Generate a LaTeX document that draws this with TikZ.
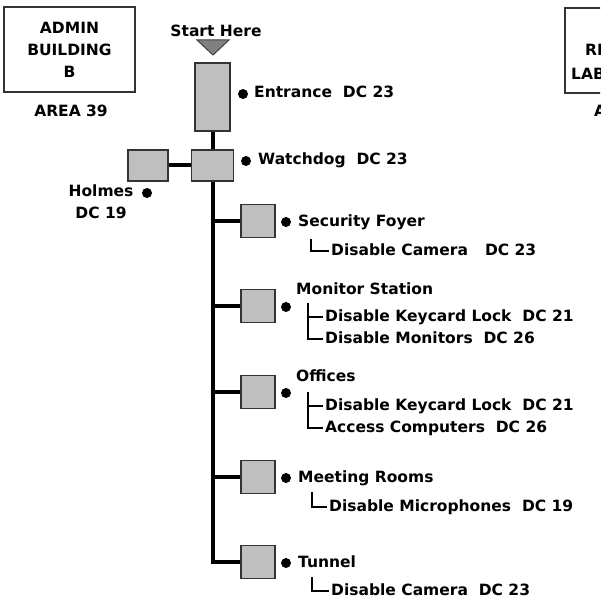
\documentclass[tikz,border=0pt]{standalone}
\usepackage{fontspec}
\setmainfont{DejaVu Sans}
\usepackage{tikz}
\usetikzlibrary{positioning}
\newcommand{\dcval}[1]{\hspace{0.7em}DC~#1}

\begin{document}
\begin{tikzpicture}[x=1pt, y=-1pt,
    every node/.style={font=\bfseries\fontsize{15.5}{22}\selectfont},
    room/.style={draw=black!80, line width=1.6pt, fill=black!25,
      minimum width=34pt, minimum height=33pt, inner sep=0pt},
    bldg/.style={draw=black!80, line width=1.6pt, minimum width=131pt,
      minimum height=85pt, align=center},
    dotmark/.style={circle, fill=black, minimum size=10pt, inner sep=0pt},
    lbl/.style={anchor=west, inner sep=0pt, text height=11pt, text depth=3pt},
    trunk/.style={line width=4pt},
    subline/.style={line width=2pt, shorten >=2pt}]
  \useasboundingbox (0,0) rectangle (600,612);
  \clip (0,0) rectangle (600,612);
  % Buildings
  \node[bldg] (admin) at (69.5,49.5) {ADMIN\\BUILDING\\B};
  \node (area) at (71,111) {AREA 39};
  \draw[draw=black!80, line width=1.6pt] (565,8) rectangle (700,93);
  \node[lbl] (labre) at (585,52) {RE};
  \node[lbl] (lablab) at (571,76) {LAB};
  \node[lbl] (labarea) at (594,113) {A};
  % Start marker
  \node (start) at (216,31) {Start Here};
  \filldraw[fill=black!50, draw=black!75, line width=1pt]
    (197,40) -- (229,40) -- (213,55) -- cycle;
  % Rooms
  \node[room, minimum width=35pt, minimum height=68pt] (entrance) at (212.5,97) {};
  \node[room, minimum width=42pt, minimum height=31pt] (watchdog) at (212.5,165.5) {};
  \node[room, minimum width=40pt, minimum height=31pt] (holmes) at (148,165.5) {};
  \node[room] (secroom) at (258,221) {};
  \node[room] (monroom) at (258,306) {};
  \node[room] (offroom) at (258,392) {};
  \node[room] (meetroom) at (258,477) {};
  \node[room] (tunroom) at (258,562) {};
  % Corridors
  \draw[trunk] (entrance) -- (watchdog);
  \draw[trunk] (holmes) -- (watchdog);
  \draw[trunk] (watchdog.south) |- (tunroom.west);
  \foreach \r in {secroom, monroom, offroom, meetroom}
    \draw[trunk] (\r.west) -- (\r.west -| watchdog.south);
  % Bullets and names
  \node[dotmark] (entdot) at (243,94) {};
  \node[lbl] (entlbl) at (254,94) {Entrance\dcval{23}};
  \node[dotmark] (wddot) at (246,161) {};
  \node[lbl] (wdlbl) at (258,161) {Watchdog\dcval{23}};
  \node[dotmark] (holdot) at (147,193) {};
  \node[align=center, inner sep=0pt] (hollbl) at (101,202) {Holmes\\DC 19};
  \node[dotmark] (secdot) at (286,222) {};
  \node[lbl] (seclbl) at (298,222) {Security Foyer};
  \node[dotmark] (mondot) at (286,307) {};
  \node[lbl] (monlbl) at (296,290) {Monitor Station};
  \node[dotmark] (offdot) at (286,393) {};
  \node[lbl] (offlbl) at (296,377) {Offices};
  \node[dotmark] (meetdot) at (286,478) {};
  \node[lbl] (meetlbl) at (298,478) {Meeting Rooms};
  \node[dotmark] (tundot) at (286,563) {};
  \node[lbl] (tunlbl) at (298,563) {Tunnel};
  % Tasks
  \node[lbl] (seccam) at (331,251) {Disable Camera\hspace{0.4em}\dcval{23}};
  \node[lbl] (monkey) at (325,317) {Disable Keycard Lock\dcval{21}};
  \node[lbl] (monmon) at (325,339) {Disable Monitors\dcval{26}};
  \node[lbl] (offkey) at (325,406) {Disable Keycard Lock\dcval{21}};
  \node[lbl] (offcomp) at (325,428) {Access Computers\dcval{26}};
  \node[lbl] (meetmic) at (329,507) {Disable Microphones\dcval{19}};
  \node[lbl] (tuncam) at (331,591) {Disable Camera\dcval{23}};
  \coordinate (secL) at (311,239);
  \coordinate (monL) at (308,303);
  \coordinate (offL) at (308,392);
  \coordinate (meetL) at (312,492);
  \coordinate (tunL) at (312,577);
  \draw[subline] (secL) |- (seccam.west);
  \draw[subline] (monL) |- (monkey.west);
  \draw[subline] (monL) |- (monmon.west);
  \draw[subline] (offL) |- (offkey.west);
  \draw[subline] (offL) |- (offcomp.west);
  \draw[subline] (meetL) |- (meetmic.west);
  \draw[subline] (tunL) |- (tuncam.west);
\end{tikzpicture}
\end{document}
